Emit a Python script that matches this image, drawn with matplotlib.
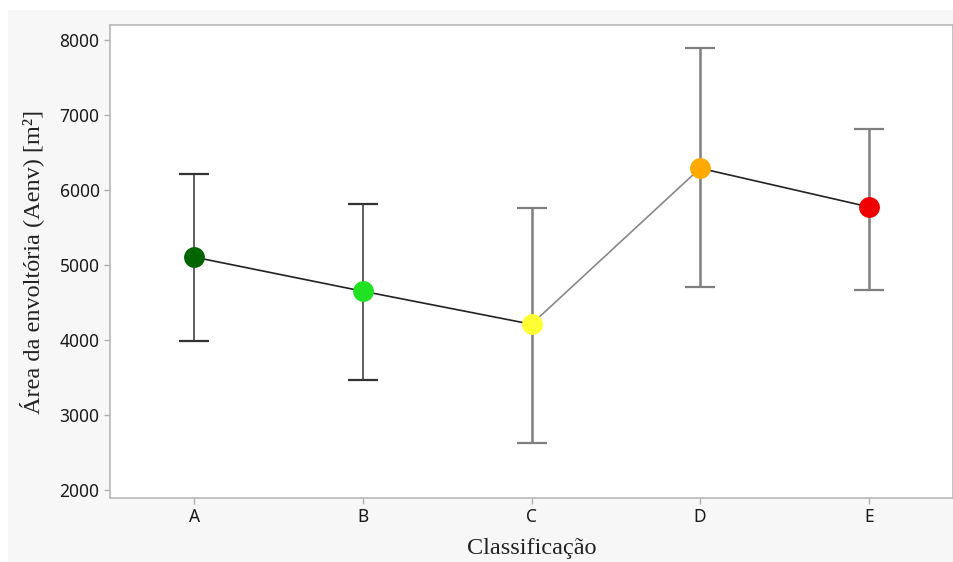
import numpy as np
import matplotlib.pyplot as plt
from matplotlib.patches import Rectangle

# dados
classes = ['A', 'B', 'C', 'D', 'E']
media = [5105, 4650, 4210, 6290, 5775]
limite_sup = [6210, 5810, 5765, 7890, 6810]
limite_inf = [3985, 3465, 2625, 4705, 4665]
cores = ['#006400', '#22e022', '#ffff33', '#ffaa00', '#ee0000']
cor_barra = ['#333333', '#333333', '#7f7f7f', '#7f7f7f', '#7f7f7f']
larg_barra = [1.1, 1.1, 1.8, 1.8, 1.8]
cor_linha = ['#222222', '#222222', '#888888', '#222222']

fig = plt.figure(figsize=(9.54, 5.62), dpi=100)
fig.patch.set_facecolor('white')
fig.patches.append(Rectangle((8/954, 0), 1 - 8/954, (562-10)/562,
                             transform=fig.transFigure, facecolor='#f7f7f7',
                             edgecolor='none', zorder=-10))

ax = fig.add_axes([110/954, 64/562, 843/954, 473/562])
ax.set_facecolor('white')

x = np.arange(len(classes))

# linhas entre os pontos
for i in range(len(x) - 1):
    ax.plot(x[i:i+2], media[i:i+2], color=cor_linha[i], lw=1.2, zorder=2)

# barras de erro
for i in range(len(x)):
    ax.errorbar(x[i], media[i],
                yerr=[[media[i] - limite_inf[i]], [limite_sup[i] - media[i]]],
                fmt='none', ecolor=cor_barra[i], elinewidth=larg_barra[i],
                capsize=11, capthick=1.6, zorder=1)
    ax.plot(x[i], media[i], 'o', color=cores[i], ms=15, mec='none', zorder=3)

ax.set_xlim(-0.5, 4.5)
ax.set_ylim(1893, 8200)
ax.set_xticks(x)
ax.set_xticklabels(classes)
ax.set_yticks([2000, 3000, 4000, 5000, 6000, 7000, 8000])

for s in ax.spines.values():
    s.set_color('#b8b8b8')
    s.set_linewidth(1.2)
ax.tick_params(colors='#b0b0b0', labelcolor='#1a1a1a', length=4, width=1,
               labelsize=12.5)
for t in ax.get_xticklabels() + ax.get_yticklabels():
    t.set_fontfamily('Noto Sans')

ax.set_ylabel('Área da envoltória (Aenv) [m²]', fontfamily='Liberation Serif',
              fontsize=17.5, color='#222222', labelpad=11)
ax.set_xlabel('Classificação', fontfamily='Liberation Serif', fontsize=17.5,
              color='#222222', labelpad=8)

fig.savefig('out.png', dpi=100)
